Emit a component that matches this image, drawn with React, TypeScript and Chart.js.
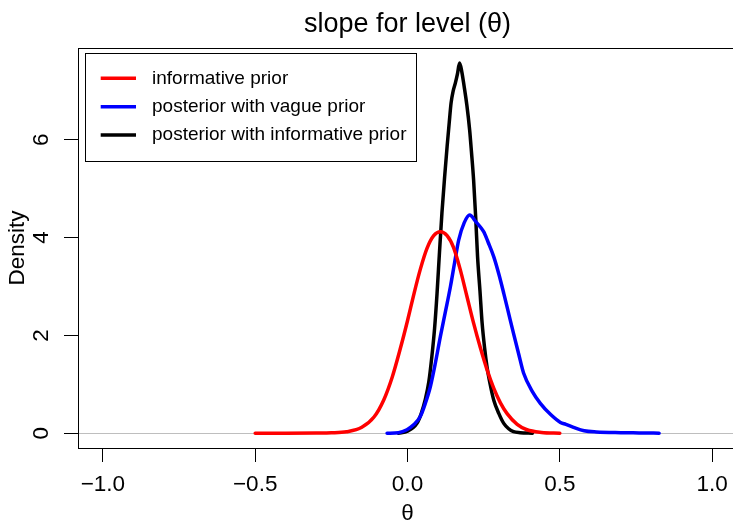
import { useEffect, useRef } from "react";
import { Chart, registerables } from "chart.js";

Chart.register(...registerables);

const FONT = '"Liberation Sans", Arial, Helvetica, sans-serif';

const TITLE = "slope for level (θ)";
const X_TITLE = "θ";
const Y_TITLE = "Density";
const X_TICKS = [-1, -0.5, 0, 0.5, 1];
const Y_TICKS = [0, 2, 4, 6];
const SERIES_LABELS = [
  "informative prior",
  "posterior with vague prior",
  "posterior with informative prior",
];
const SERIES_COLORS = ["#FF0000", "#0000FF", "#000000"];

const redX = [-0.5, -0.4, -0.3, -0.25, -0.2, -0.15, -0.11, -0.078, -0.05, -0.024, 0.0, 0.02, 0.042, 0.064, 0.086, 0.108, 0.13, 0.151, 0.173, 0.195, 0.217, 0.239, 0.261, 0.283, 0.305, 0.327, 0.36, 0.392, 0.44, 0.5];
const redY = [0, 0, 0.003, 0.008, 0.03, 0.12, 0.33, 0.68, 1.15, 1.72, 2.3, 2.82, 3.35, 3.78, 4.04, 4.12, 4.04, 3.8, 3.35, 2.8, 2.25, 1.75, 1.3, 0.92, 0.62, 0.4, 0.18, 0.07, 0.015, 0];

const blueX = [-0.067, -0.03, -0.002, 0.02, 0.042, 0.058, 0.075, 0.092, 0.108, 0.125, 0.141, 0.155, 0.168, 0.186, 0.204, 0.225, 0.25, 0.265, 0.283, 0.3, 0.316, 0.332, 0.348, 0.365, 0.381, 0.41, 0.436, 0.47, 0.502, 0.52, 0.545, 0.58, 0.62, 0.7, 0.76, 0.826];
const blueY = [0, 0.01, 0.07, 0.17, 0.34, 0.6, 0.95, 1.45, 1.98, 2.5, 3.0, 3.5, 3.95, 4.3, 4.46, 4.32, 4.12, 3.9, 3.61, 3.25, 2.86, 2.45, 2.04, 1.62, 1.23, 0.85, 0.61, 0.38, 0.22, 0.18, 0.12, 0.05, 0.025, 0.01, 0.005, 0];

const blackX = [-0.03, 0.0, 0.031, 0.045, 0.058, 0.07, 0.08, 0.089, 0.097, 0.105, 0.113, 0.122, 0.13, 0.137, 0.143, 0.15, 0.157, 0.164, 0.171, 0.178, 0.186, 0.195, 0.204, 0.21, 0.217, 0.224, 0.23, 0.238, 0.245, 0.253, 0.261, 0.272, 0.283, 0.3, 0.316, 0.332, 0.348, 0.37, 0.41];
const blackY = [0, 0.04, 0.2, 0.4, 0.68, 1.05, 1.57, 2.15, 2.86, 3.7, 4.5, 5.25, 5.86, 6.35, 6.75, 7.0, 7.16, 7.35, 7.57, 7.4, 7.09, 6.7, 6.2, 5.75, 5.18, 4.4, 3.61, 2.9, 2.25, 1.75, 1.36, 0.98, 0.68, 0.4, 0.2, 0.09, 0.03, 0.01, 0];

const X_MIN = -1.0817;
const X_MAX = 1.0817;
const Y_MIN = -0.303;
const Y_MAX = 7.877;

const CANVAS_W = 745;
const CANVAS_H = 525;
const AXIS_FONT = 22.5;
const LEGEND_FONT = 19;
const TITLE_FONT = 27;

const zip = (xs: number[], ys: number[]) => xs.map((x, i) => ({ x, y: ys[i] }));

const fmt = (v: number) => (v < 0 ? "\u2212" + Math.abs(v).toFixed(1) : v.toFixed(1));

const rPlot = {
  id: "rPlot",
  beforeDatasetsDraw(chart: any) {
    const { ctx, chartArea: a, scales } = chart;
    const y0 = Math.round(scales.y.getPixelForValue(0)) + 0.5;
    ctx.save();
    ctx.beginPath();
    ctx.rect(a.left, a.top, a.right - a.left, a.bottom - a.top);
    ctx.clip();
    ctx.beginPath();
    ctx.strokeStyle = "#BEBEBE";
    ctx.lineWidth = 1;
    ctx.moveTo(a.left, y0);
    ctx.lineTo(a.right, y0);
    ctx.stroke();
    ctx.restore();
  },
  afterDraw(chart: any) {
    const { ctx, chartArea: a, scales } = chart;
    ctx.save();
    // box
    ctx.strokeStyle = "#000";
    ctx.lineWidth = 1;
    ctx.strokeRect(a.left + 0.5, a.top + 0.5, a.right - a.left, a.bottom - a.top);

    ctx.fillStyle = "#000";
    // title
    ctx.font = `${TITLE_FONT}px ${FONT}`;
    ctx.textAlign = "center";
    ctx.textBaseline = "alphabetic";
    ctx.fillText(TITLE, (a.left + a.right) / 2, 31.7);

    // x title
    ctx.font = `${AXIS_FONT}px ${FONT}`;
    ctx.textBaseline = "middle";
    ctx.fillText(X_TITLE, (a.left + a.right) / 2, 514);

    // y tick labels (rotated)
    for (const v of Y_TICKS) {
      const py = scales.y.getPixelForValue(v);
      ctx.save();
      ctx.translate(41.5, py);
      ctx.rotate(-Math.PI / 2);
      ctx.textAlign = "center";
      ctx.textBaseline = "middle";
      ctx.fillText(String(v), 0, 0);
      ctx.restore();
    }

    // y title
    ctx.save();
    ctx.translate(18, (a.top + a.bottom) / 2);
    ctx.rotate(-Math.PI / 2);
    ctx.textAlign = "center";
    ctx.textBaseline = "middle";
    ctx.fillText(Y_TITLE, 0, 0);
    ctx.restore();

    // legend
    const lx = a.left + 7;
    const ly = a.top + 5;
    const lw = 331;
    const lh = 108;
    ctx.fillStyle = "#fff";
    ctx.fillRect(lx, ly, lw, lh);
    ctx.strokeStyle = "#000";
    ctx.lineWidth = 1;
    ctx.strokeRect(lx + 0.5, ly + 0.5, lw, lh);
    ctx.font = `${LEGEND_FONT}px ${FONT}`;
    ctx.textAlign = "left";
    ctx.textBaseline = "middle";
    chart.data.datasets.forEach((ds: any, i: number) => {
      const ry = ly + 25.3 + i * 28.35;
      ctx.beginPath();
      ctx.strokeStyle = ds.borderColor;
      ctx.lineWidth = 3.5;
      ctx.lineCap = "butt";
      ctx.moveTo(lx + 15.7, ry);
      ctx.lineTo(lx + 51, ry);
      ctx.stroke();
      ctx.fillStyle = "#000";
      ctx.fillText(ds.label, lx + 67, ry);
    });
    ctx.restore();
  },
};

export default function App() {
  const ref = useRef<HTMLCanvasElement | null>(null);

  useEffect(() => {
    if (!ref.current) return;
    const series = [zip(redX, redY), zip(blueX, blueY), zip(blackX, blackY)];
    const chart = new Chart(ref.current, {
      type: "line",
      data: {
        datasets: series.map((d, i) => ({
          label: SERIES_LABELS[i],
          data: d,
          borderColor: SERIES_COLORS[i],
          backgroundColor: SERIES_COLORS[i],
          borderWidth: 3.5,
          pointRadius: 0,
          fill: false,
          cubicInterpolationMode: "monotone" as const,
          borderJoinStyle: "round" as const,
          borderCapStyle: "round" as const,
        })),
      },
      options: {
        animation: false,
        responsive: false,
        devicePixelRatio: 1,
        events: [],
        layout: { padding: { left: 0, top: 48, right: CANVAS_W - 737, bottom: 0 } },
        plugins: {
          legend: { display: false },
          title: { display: false },
          tooltip: { enabled: false },
        },
        scales: {
          x: {
            type: "linear",
            min: X_MIN,
            max: X_MAX,
            offset: false,
            afterBuildTicks: (s: any) => {
              s.ticks = X_TICKS.map((v) => ({ value: v }));
            },
            afterFit: (s: any) => {
              s.height = CANVAS_H - 448;
            },
            grid: {
              display: true,
              drawOnChartArea: false,
              drawTicks: true,
              tickLength: 14,
              color: "#000",
              lineWidth: 1,
            },
            border: { display: false },
            ticks: {
              autoSkip: false,
              maxRotation: 0,
              minRotation: 0,
              padding: 9,
              color: "#000",
              font: { family: FONT, size: AXIS_FONT },
              callback: (v: any) => fmt(Number(v)),
            },
          },
          y: {
            type: "linear",
            min: Y_MIN,
            max: Y_MAX,
            afterBuildTicks: (s: any) => {
              s.ticks = Y_TICKS.map((v) => ({ value: v }));
            },
            afterFit: (s: any) => {
              s.width = 78;
            },
            grid: {
              display: true,
              drawOnChartArea: false,
              drawTicks: true,
              tickLength: 14,
              color: "#000",
              lineWidth: 1,
            },
            border: { display: false },
            ticks: { display: false },
          },
        },
      },
      plugins: [rPlot],
    });
    return () => chart.destroy();
  }, []);

  return (
    <div
      style={{
        position: "fixed",
        left: 0,
        top: 0,
        width: 733,
        height: 525,
        overflow: "hidden",
        background: "#fff",
      }}
    >
      <canvas
        ref={ref}
        width={CANVAS_W}
        height={CANVAS_H}
        style={{ display: "block", width: CANVAS_W, height: CANVAS_H }}
      />
    </div>
  );
}
